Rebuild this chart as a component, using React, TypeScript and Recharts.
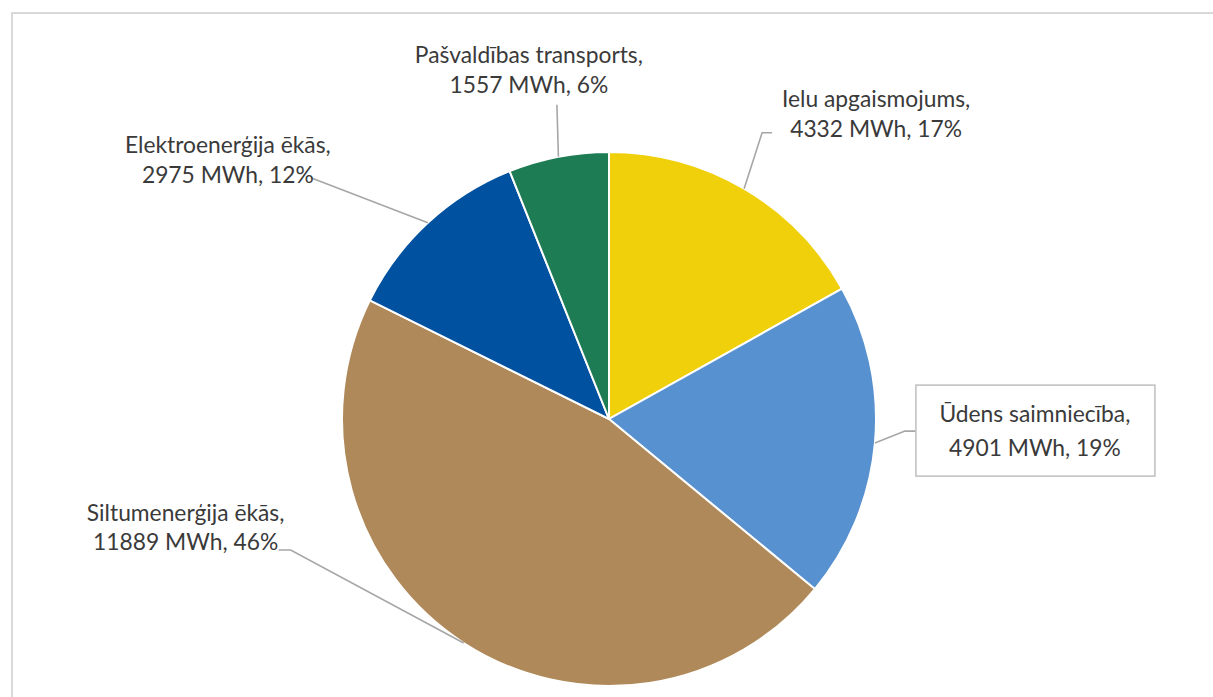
import React from 'react';
import { PieChart, Pie, Cell } from 'recharts';

const categories = [
  'Ielu apgaismojums',
  'Ūdens saimniecība',
  'Siltumenerģija ēkās',
  'Elektroenerģija ēkās',
  'Pašvaldības transports',
];
const values = [4332, 4901, 11889, 2975, 1557];
const unit = 'MWh';
const colors = ['#F0CF0B', '#5891D0', '#AF8959', '#0051A0', '#1E7C54'];

const total = values.reduce((a, b) => a + b, 0);
const data = categories.map((name, i) => ({
  name,
  value: values[i],
  pct: Math.round((values[i] / total) * 100),
}));

const RADIAN = Math.PI / 180;

// label placement, relative to the anchor point on the slice's arc
type Layout = {
  path: number[][];
  text: number[];
  gap: number;
  box?: number[];
};
const labelLayouts: Layout[] = [
  { path: [[18, -56], [28, -56]], text: [132, -52], gap: 30 },
  { path: [[30, -12], [41, -12]], text: [160, 13], gap: 34, box: [41, -58, 239, 91] },
  { path: [[-173, -93], [-185, -93]], text: [-278, -93], gap: 29 },
  { path: [[-117, -45]], text: [-200, -40], gap: 30 },
  { path: [[-1.5, -52]], text: [-29.5, -64], gap: 30 },
];

const FONT = 'Lato, "Open Sans", sans-serif';

const renderLabel = (props: any) => {
  const { cx, cy, midAngle, outerRadius, index, payload } = props;
  const lay = labelLayouts[index];
  const a = midAngle * RADIAN;
  const ax = cx + outerRadius * Math.cos(-a);
  const ay = cy + outerRadius * Math.sin(-a);
  const pts = [[0, 0], ...lay.path].map(([dx, dy]) => `${ax + dx},${ay + dy}`).join(' ');
  const tx = ax + lay.text[0];
  const ty = ay + lay.text[1];
  const name = payload?.name ?? data[index].name;
  const value = payload?.value ?? data[index].value;
  const pct = payload?.pct ?? data[index].pct;
  return (
    <g key={`lbl-${index}`}>
      <polyline points={pts} fill="none" stroke="#A6A6A6" strokeWidth={1.6} />
      {lay.box && (
        <rect
          x={ax + lay.box[0]}
          y={ay + lay.box[1]}
          width={lay.box[2]}
          height={lay.box[3]}
          fill="#FFFFFF"
          stroke="#BFBFBF"
          strokeWidth={1.5}
        />
      )}
      <text
        x={tx}
        y={ty}
        textAnchor="middle"
        fill="#3A3A3A"
        fontFamily={FONT}
        fontSize={22.8}
      >
        <tspan x={tx} y={ty - lay.gap}>{`${name},`}</tspan>
        <tspan x={tx} y={ty}>{`${value} ${unit}, ${pct}%`}</tspan>
      </text>
    </g>
  );
};

export default function App() {
  return (
    <div style={{ position: 'absolute', left: 0, top: 0, width: 1213, height: 697, overflow: 'hidden', background: '#fff' }}>
      <div
        style={{
          position: 'absolute',
          left: 11,
          top: 12,
          width: 1240,
          height: 720,
          borderLeft: '2px solid #D9D9D9',
          borderTop: '2px solid #D9D9D9',
        }}
      />
      <div style={{ position: 'absolute', left: 0, top: 0 }}>
        <PieChart width={1213} height={697} margin={{ top: 0, right: 0, bottom: 0, left: 0 }}>
          <Pie
            data={data}
            dataKey="value"
            nameKey="name"
            cx={609}
            cy={419}
            outerRadius={267}
            startAngle={90}
            endAngle={-270}
            stroke="#FFFFFF"
            strokeWidth={2}
            isAnimationActive={false}
            label={renderLabel}
            labelLine={false}
          >
            {data.map((d, i) => (
              <Cell key={d.name} fill={colors[i]} />
            ))}
          </Pie>
        </PieChart>
      </div>
    </div>
  );
}
